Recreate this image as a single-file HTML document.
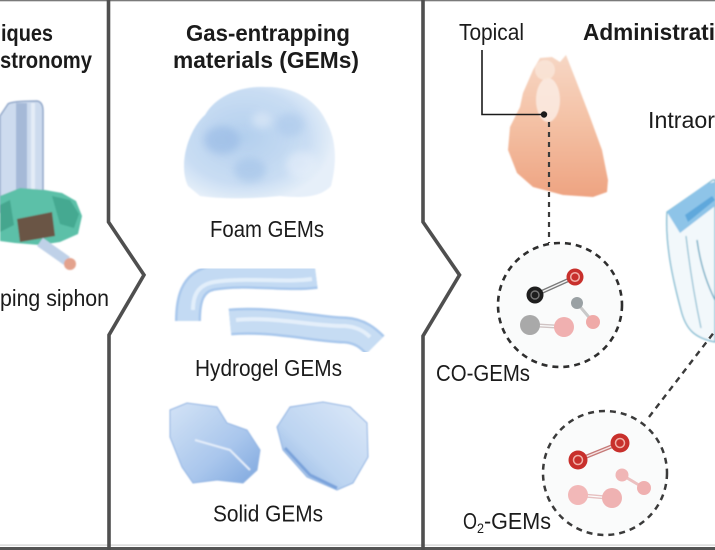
<!DOCTYPE html>
<html><head><meta charset="utf-8"><style>
html,body{margin:0;padding:0;background:#fff;overflow:hidden;}
svg{display:block;}
text{font-family:"Liberation Sans Narrow","Liberation Sans",sans-serif;fill:#1b1b1b;}
.b{font-weight:bold;font-size:23.5px;}
.n{font-size:23.5px;}
</style></head><body>
<svg width="715" height="550" viewBox="0 0 715 550" xmlns="http://www.w3.org/2000/svg">
<defs>
  <filter id="soft" x="-10%" y="-10%" width="120%" height="120%"><feGaussianBlur stdDeviation="0.8"/></filter>
  <filter id="blur3" x="-30%" y="-30%" width="160%" height="160%"><feGaussianBlur stdDeviation="4"/></filter>
  <radialGradient id="foamG" cx="0.4" cy="0.45" r="0.6">
    <stop offset="0" stop-color="#b3cfee"/>
    <stop offset="0.7" stop-color="#c9ddf3"/>
    <stop offset="1" stop-color="#e6eff9"/>
  </radialGradient>
  <linearGradient id="footG" x1="0" y1="0" x2="0" y2="1">
    <stop offset="0" stop-color="#f6d6c4"/>
    <stop offset="0.45" stop-color="#f4c2a6"/>
    <stop offset="1" stop-color="#eea381"/>
  </linearGradient>
  <linearGradient id="rock1" x1="0" y1="0" x2="1" y2="1">
    <stop offset="0" stop-color="#d3e3f6"/>
    <stop offset="0.6" stop-color="#a9c6ec"/>
    <stop offset="1" stop-color="#7ea7de"/>
  </linearGradient>
  <linearGradient id="rock2" x1="1" y1="0" x2="0" y2="1">
    <stop offset="0" stop-color="#dde9f8"/>
    <stop offset="0.6" stop-color="#bcd4f1"/>
    <stop offset="1" stop-color="#86addf"/>
  </linearGradient>
</defs>
<rect width="715" height="550" fill="#fff"/>

<!-- ===== Left panel: siphon ===== -->
<g filter="url(#soft)">
  <path d="M0 116 L8 104 Q12 101 37 101 Q43 102 43 111 L43 196 L0 212 Z" fill="#cddbee" stroke="#8ea5c8" stroke-width="1.5"/>
  <path d="M16 103 L27 103 L27 200 L16 205 Z" fill="#a5b9d7"/>
  <path d="M31 103 L35 103 L35 198 L31 199 Z" fill="#e4ecf7"/>
  <path d="M0 196 L20 188 L45 190 L62 193 L76 201 L82 216 L78 234 L60 242 L40 245 L15 243 L0 241 Z" fill="#5cc0a8"/>
  <path d="M52 196 L70 200 L79 214 L74 228 L60 224 Z" fill="#44a991"/>
  <path d="M0 205 L10 200 L14 225 L0 232 Z" fill="#44a68e"/>
  <polygon points="17,219 52,212 55,236 20,242" fill="#6b5444"/>
  <line x1="40" y1="242" x2="67" y2="261" stroke="#bfd1e8" stroke-width="10"/>
  <circle cx="70" cy="264" r="6" fill="#e3a28d"/>
</g>
<text class="b" x="1" y="41" textLength="52" lengthAdjust="spacingAndGlyphs">iques</text>
<text class="b" x="0" y="68" textLength="92" lengthAdjust="spacingAndGlyphs">stronomy</text>
<text class="n" x="0" y="306" textLength="109" lengthAdjust="spacingAndGlyphs">ping siphon</text>

<!-- ===== Middle panel: GEMs ===== -->
<text class="b" x="186" y="41" textLength="164" lengthAdjust="spacingAndGlyphs">Gas-entrapping</text>
<text class="b" x="173" y="68" textLength="186" lengthAdjust="spacingAndGlyphs">materials (GEMs)</text>

<!-- foam -->
<g filter="url(#soft)">
  <path d="M188 186 C178 165 188 130 205 115 C216 96 240 86 265 87 C292 86 316 99 326 121 C338 142 336 166 331 186 C320 198 300 198 280 196 C250 199 220 199 200 196 Z" fill="url(#foamG)"/>
</g>
<g filter="url(#blur3)" opacity="0.6">
  <ellipse cx="222" cy="140" rx="18" ry="14" fill="#95b8e4"/>
  <ellipse cx="250" cy="170" rx="16" ry="12" fill="#a2c2e8"/>
  <ellipse cx="290" cy="125" rx="14" ry="12" fill="#aac8eb"/>
  <ellipse cx="302" cy="165" rx="16" ry="14" fill="#e6effa"/>
  <ellipse cx="262" cy="120" rx="10" ry="8" fill="#e0ebf8"/>
</g>
<text class="n" x="210" y="237" textLength="114" lengthAdjust="spacingAndGlyphs">Foam GEMs</text>

<!-- hydrogel -->
<g filter="url(#soft)" fill="none" stroke-linecap="butt">
  <path d="M188 321 C188 300 192 282 212 278 C245 272 285 280 316 276" stroke="#a8c7ec" stroke-width="26"/>
  <path d="M188 321 C188 300 192 282 212 278 C245 272 285 280 316 276" stroke="#c3daf3" stroke-width="21"/>
  <path d="M193 310 C193 295 198 285 214 282 C245 277 285 283 312 279" stroke="#e2eefa" stroke-width="4"/>
  <path d="M230 322 C270 318 320 330 345 330 C360 331 368 338 375 345" stroke="#a8c7ec" stroke-width="27"/>
  <path d="M230 322 C270 318 320 330 345 330 C360 331 368 338 375 345" stroke="#c6dcf3" stroke-width="22"/>
  <path d="M236 320 C270 316 320 327 345 326 C358 327 365 332 370 337" stroke="#e4effa" stroke-width="4"/>
</g>
<text class="n" x="195" y="376" textLength="147" lengthAdjust="spacingAndGlyphs">Hydrogel GEMs</text>

<!-- solid -->
<g filter="url(#soft)">
  <polygon points="170,410 187,403 217,407 227,423 247,430 260,450 257,470 243,483 217,480 193,483 182,467 170,437" fill="url(#rock1)" stroke="#8fb2e2" stroke-width="1"/>
  <polygon points="277,427 290,407 323,402 350,407 367,423 368,457 353,483 337,490 307,477 283,450" fill="url(#rock2)" stroke="#8fb2e2" stroke-width="1"/>
  <path d="M195 440 L230 450 L250 470" stroke="#e5eefa" stroke-width="2" fill="none"/>
  <path d="M285 448 L310 475 L337 488" stroke="#7aa3db" stroke-width="3" fill="none"/>
</g>
<text class="n" x="213" y="521.5" textLength="110" lengthAdjust="spacingAndGlyphs">Solid GEMs</text>

<!-- ===== Right panel ===== -->
<text class="n" x="459" y="40" textLength="65" lengthAdjust="spacingAndGlyphs">Topical</text>
<text class="b" x="583" y="40" textLength="132" lengthAdjust="spacingAndGlyphs">Administrati</text>
<text class="n" x="648" y="128" textLength="67" lengthAdjust="spacingAndGlyphs">Intraor</text>

<!-- foot -->
<g filter="url(#soft)">
  <path d="M533 70 L540 58 L552 57 L560 62 L566 55 L577 83 L590 117 L602 150 L608 180 L607 192 L593 197 L563 195 L533 187 L517 173 L508 150 L510 127 L520 107 L523 93 L530 77 Z" fill="url(#footG)"/>
  <ellipse cx="548" cy="100" rx="12" ry="22" fill="#fbeee6" opacity="0.8"/>
  <ellipse cx="545" cy="70" rx="10" ry="10" fill="#fae6da" opacity="0.8"/>
</g>

<!-- intraoral device -->
<g filter="url(#soft)">
  <path d="M667 212 L713 180 L715 180 L715 342 C695 338 686 330 681 310 C673 280 665 245 667 212 Z" fill="#f2f8fb" stroke="#7ab8cf" stroke-width="1.3"/>
  <polygon points="667,212 706,184 715,182 715,206 680,233" fill="#8ec4e8"/>
  <polygon points="685,215 712,196 715,200 688,222" fill="#5ea8dc"/>
  <path d="M697 240 C700 262 706 282 715 300" stroke="#5aa3be" stroke-width="1.3" fill="none"/>
  <path d="M686 236 C690 270 695 300 701 328" stroke="#7ab6cc" stroke-width="1.1" fill="none"/>
</g>

<!-- leader line -->
<polyline points="482,50 482,114.5 544,114.5" fill="none" stroke="#1b1b1b" stroke-width="1.6"/>
<circle cx="544" cy="114.5" r="3.2" fill="#1b1b1b"/>
<line x1="549" y1="122" x2="549" y2="243" stroke="#3a3a3a" stroke-width="2.2" stroke-dasharray="5 5"/>

<!-- CO circle -->
<circle cx="560" cy="305" r="62" fill="#fafbfb" stroke="#2e2e2e" stroke-width="2.6" stroke-dasharray="6 5"/>
<g>
  <line x1="535" y1="295" x2="575" y2="277" stroke="#7a7a7a" stroke-width="4"/>
  <line x1="535" y1="295" x2="575" y2="277" stroke="#f4f4f4" stroke-width="1.4"/>
  <circle cx="535" cy="295" r="8.5" fill="#1e1e1e"/>
  <circle cx="535" cy="295" r="4" fill="none" stroke="#777" stroke-width="1.4"/>
  <circle cx="575" cy="277" r="8.5" fill="#c8302c"/>
  <circle cx="575" cy="277" r="4.3" fill="none" stroke="#f2b2aa" stroke-width="1.5"/>
  <line x1="577" y1="303" x2="593" y2="322" stroke="#c9c9c9" stroke-width="3"/>
  <circle cx="577" cy="303" r="6" fill="#9aa1a4"/>
  <circle cx="593" cy="322" r="7" fill="#efaaa8"/>
  <line x1="530" y1="325" x2="564" y2="327" stroke="#d0c4c4" stroke-width="4"/>
  <line x1="530" y1="325" x2="564" y2="327" stroke="#fbfbfb" stroke-width="1.3"/>
  <circle cx="530" cy="325" r="10" fill="#a9a9a9"/>
  <circle cx="564" cy="327" r="10" fill="#f0b0b0"/>
</g>
<text class="n" x="436" y="381" textLength="94" lengthAdjust="spacingAndGlyphs">CO-GEMs</text>

<!-- O2 circle -->
<line x1="649" y1="417" x2="715" y2="331" stroke="#3a3a3a" stroke-width="2.4" stroke-dasharray="6 5"/>
<circle cx="605" cy="473" r="62" fill="#fafbfb" stroke="#3a3a3a" stroke-width="2.5" stroke-dasharray="6 5"/>
<g>
  <line x1="578" y1="460" x2="620" y2="443" stroke="#c57a78" stroke-width="4"/>
  <line x1="578" y1="460" x2="620" y2="443" stroke="#f6e4e4" stroke-width="1.4"/>
  <circle cx="578" cy="460" r="9.5" fill="#c8302c"/>
  <circle cx="578" cy="460" r="4.5" fill="none" stroke="#f0b0a8" stroke-width="1.5"/>
  <circle cx="620" cy="443" r="9.5" fill="#c8302c"/>
  <circle cx="620" cy="443" r="4.5" fill="none" stroke="#f0b0a8" stroke-width="1.5"/>
  <line x1="622" y1="475" x2="644" y2="488" stroke="#ecc0c0" stroke-width="3"/>
  <circle cx="622" cy="475" r="6.5" fill="#f0b6b6"/>
  <circle cx="644" cy="488" r="7" fill="#efb0b0"/>
  <line x1="578" y1="495" x2="612" y2="498" stroke="#e6c0c0" stroke-width="4"/>
  <line x1="578" y1="495" x2="612" y2="498" stroke="#fbfbfb" stroke-width="1.3"/>
  <circle cx="578" cy="495" r="10" fill="#f2b8b8"/>
  <circle cx="612" cy="498" r="10" fill="#efb2b2"/>
</g>
<text class="n" x="463" y="529" textLength="14" lengthAdjust="spacingAndGlyphs">O</text>
<text x="477" y="533" style="font-size:14px" textLength="7" lengthAdjust="spacingAndGlyphs">2</text>
<text class="n" x="484" y="529" textLength="67" lengthAdjust="spacingAndGlyphs">-GEMs</text>

<!-- ===== Borders ===== -->
<rect x="0" y="0" width="715" height="1.3" fill="#7a7a7a"/>
<rect x="0" y="544.5" width="715" height="1.2" fill="#cfcfcf"/>
<rect x="0" y="547" width="715" height="3" fill="#555"/>
<polyline points="108.5,0 108.5,222 144,275 109,335 109,550" fill="none" stroke="#4f4f4f" stroke-width="3.6" stroke-linejoin="miter"/>
<polyline points="423,0 423,222 459.5,275 423,336 423,550" fill="none" stroke="#4f4f4f" stroke-width="3.6" stroke-linejoin="miter"/>
</svg>
</body></html>
